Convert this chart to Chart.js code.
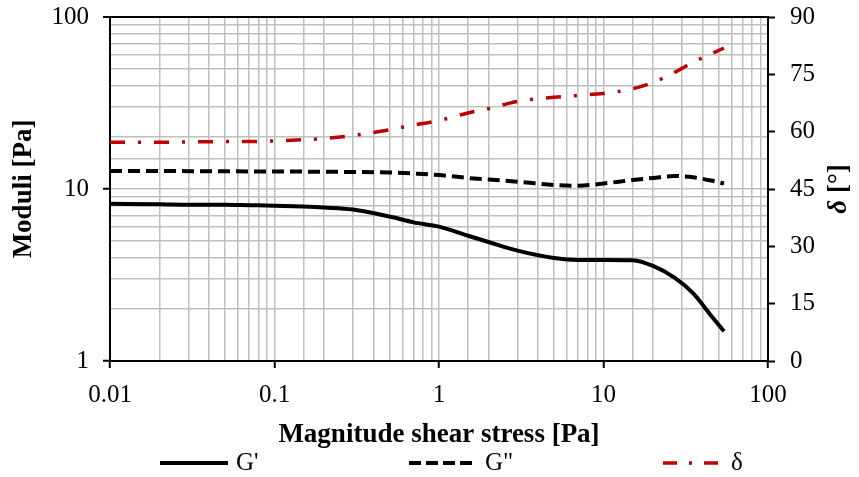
<!DOCTYPE html>
<html>
<head>
<meta charset="utf-8">
<title>Moduli vs shear stress</title>
<script src="https://cdn.jsdelivr.net/npm/chart.js@4/dist/chart.umd.min.js"></script>
<style>
  html, body { margin: 0; padding: 0; background: #fff; }
  #wrap { width: 859px; height: 477px; }
</style>
</head>
<body>
<div id="wrap"><canvas id="chart" width="859" height="477"></canvas></div>
<script>
// values
var stress  = [0.01, 0.02, 0.03, 0.05, 0.07, 0.1, 0.15, 0.2, 0.3, 0.5, 0.7, 1, 1.5, 2, 3, 5, 7, 10, 15, 20, 27, 35, 45, 54];
var gPrime  = [8.2, 8.15, 8.1, 8.1, 8.05, 8.0, 7.9, 7.8, 7.6, 6.92, 6.4, 6.04, 5.35, 4.92, 4.38, 3.97, 3.87, 3.87, 3.85, 3.57, 3.05, 2.48, 1.84, 1.49];
var gDouble = [12.73, 12.72, 12.7, 12.68, 12.66, 12.65, 12.62, 12.6, 12.56, 12.47, 12.3, 12.06, 11.59, 11.35, 11.03, 10.55, 10.45, 10.76, 11.28, 11.59, 11.9, 11.69, 11.2, 10.76];
var delta   = [57.2, 57.2, 57.3, 57.4, 57.4, 57.6, 57.9, 58.2, 59.0, 60.5, 61.7, 62.9, 64.9, 66.0, 67.9, 69.0, 69.5, 70.0, 71.2, 72.9, 75.5, 78.2, 80.3, 81.9];

var xTicks = [0.01, 0.1, 1, 10, 100];
var yTicks = [1, 10, 100];

var FONT = "'Liberation Serif', 'Times New Roman', serif";
var GRID = '#bfbfbf';
var RED = '#c00000';

Chart.defaults.font.family = FONT;
Chart.defaults.color = '#000';

function pts(ys) {
  return stress.map(function(x, i) { return { x: x, y: ys[i] }; });
}

function isDecade(v) {
  var l = Math.log10(v);
  return Math.abs(l - Math.round(l)) < 1e-6;
}

function decadeLabel(v, list) {
  for (var i = 0; i < list.length; i++) {
    if (Math.abs(v - list[i]) / list[i] < 1e-6) return String(list[i]);
  }
  return '';
}

// keep label overflow from pushing the plot area around
function noPad(s) {
  s.paddingTop = 0;
  s.paddingBottom = 0;
  s.paddingLeft = 0;
  s.paddingRight = 0;
}

var legendItems = [
  { label: "G'",  color: '#000', dash: [],             width: 4,   x0: 160, x1: 228 },
  { label: 'G"',  color: '#000', dash: [12, 5],        width: 4,   x0: 409, x1: 477 },
  { label: 'δ',   color: RED,    dash: [14, 12, 3, 12], width: 3.5, x0: 663, x1: 723 }
];

var extrasPlugin = {
  id: 'extras',
  afterDraw: function(chart) {
    var ctx = chart.ctx;
    ctx.save();
    // legend
    var ly = 463;
    legendItems.forEach(function(it) {
      ctx.beginPath();
      ctx.strokeStyle = it.color;
      ctx.lineWidth = it.width;
      ctx.lineCap = 'butt';
      ctx.setLineDash(it.dash);
      ctx.moveTo(it.x0, ly);
      ctx.lineTo(it.x1, ly);
      ctx.stroke();
      ctx.setLineDash([]);
      ctx.fillStyle = '#000';
      ctx.font = '25px ' + FONT;
      ctx.textBaseline = 'middle';
      ctx.textAlign = 'left';
      ctx.fillText(it.label, it.x1 + 8, ly);
    });

    // right axis title, reads bottom to top
    var area = chart.chartArea;
    ctx.translate(839, (area.top + area.bottom) / 2);
    ctx.rotate(-Math.PI / 2);
    ctx.fillStyle = '#000';
    ctx.textBaseline = 'middle';
    var a = 'δ', b = ' [°]';
    ctx.font = 'italic bold 27px ' + FONT;
    var wa = ctx.measureText(a).width;
    ctx.font = 'bold 27px ' + FONT;
    var wb = ctx.measureText(b).width;
    var start = -(wa + wb) / 2;
    ctx.textAlign = 'left';
    ctx.font = 'italic bold 27px ' + FONT;
    ctx.fillText(a, start, 0);
    ctx.font = 'bold 27px ' + FONT;
    ctx.fillText(b, start + wa, 0);
    ctx.restore();
  }
};

var chart = new Chart(document.getElementById('chart'), {
  type: 'line',
  data: {
    datasets: [
      {
        label: "G'",
        data: pts(gPrime),
        yAxisID: 'y',
        borderColor: '#000',
        borderWidth: 4,
        pointRadius: 0,
        cubicInterpolationMode: 'monotone',
        fill: false
      },
      {
        label: 'G"',
        data: pts(gDouble),
        yAxisID: 'y',
        borderColor: '#000',
        borderWidth: 4,
        borderDash: [12, 6],
        pointRadius: 0,
        cubicInterpolationMode: 'monotone',
        fill: false
      },
      {
        label: 'δ',
        data: pts(delta),
        yAxisID: 'y1',
        borderColor: RED,
        borderWidth: 3.5,
        borderDash: [15, 13, 3, 13],
        pointRadius: 0,
        cubicInterpolationMode: 'monotone',
        fill: false
      }
    ]
  },
  options: {
    responsive: false,
    animation: false,
    devicePixelRatio: 1,
    layout: { padding: { top: 17, left: 0, right: 0, bottom: 0 } },
    plugins: {
      legend: { display: false },
      tooltip: { enabled: false }
    },
    scales: {
      x: {
        type: 'logarithmic',
        min: 0.01,
        max: 100,
        afterFit: function(s) { s.height = 116; noPad(s); },
        border: { color: '#000', width: 2 },
        grid: {
          color: GRID,
          lineWidth: 1.5,
          tickLength: 7,
          tickWidth: 2,
          tickColor: function(c) { return c.tick && isDecade(c.tick.value) ? '#000' : 'rgba(0,0,0,0)'; }
        },
        ticks: {
          autoSkip: false,
          maxRotation: 0,
          padding: 12,
          font: { size: 25 },
          callback: function(v) { return decadeLabel(v, xTicks); }
        },
        title: {
          display: true,
          text: 'Magnitude shear stress [Pa]',
          font: { size: 27, weight: 'bold' },
          padding: { top: 0, bottom: 26 }
        }
      },
      y: {
        type: 'logarithmic',
        position: 'left',
        min: 1,
        max: 100,
        afterFit: function(s) { s.width = 110; noPad(s); },
        border: { color: '#000', width: 2 },
        grid: {
          color: function(c) { return c.tick && Math.abs(c.tick.value - 100) < 1e-6 ? '#000' : GRID; },
          lineWidth: function(c) { return c.tick && Math.abs(c.tick.value - 100) < 1e-6 ? 2 : 1.5; },
          tickLength: 7,
          tickWidth: 2,
          tickColor: function(c) { return c.tick && isDecade(c.tick.value) ? '#000' : 'rgba(0,0,0,0)'; }
        },
        ticks: {
          autoSkip: false,
          padding: 14,
          font: { size: 25 },
          callback: function(v) { return decadeLabel(v, yTicks); }
        },
        title: {
          display: true,
          text: 'Moduli [Pa]',
          font: { size: 27, weight: 'bold' },
          padding: { top: 8, bottom: 0 }
        }
      },
      y1: {
        type: 'linear',
        position: 'right',
        min: 0,
        max: 90,
        afterFit: function(s) { s.width = 91; noPad(s); },
        border: { color: '#000', width: 2 },
        grid: {
          drawOnChartArea: false,
          tickLength: 7,
          tickWidth: 2,
          tickColor: '#000'
        },
        ticks: {
          stepSize: 15,
          padding: 15,
          font: { size: 25 }
        }
      }
    }
  },
  plugins: [extrasPlugin]
});
</script>
</body>
</html>
